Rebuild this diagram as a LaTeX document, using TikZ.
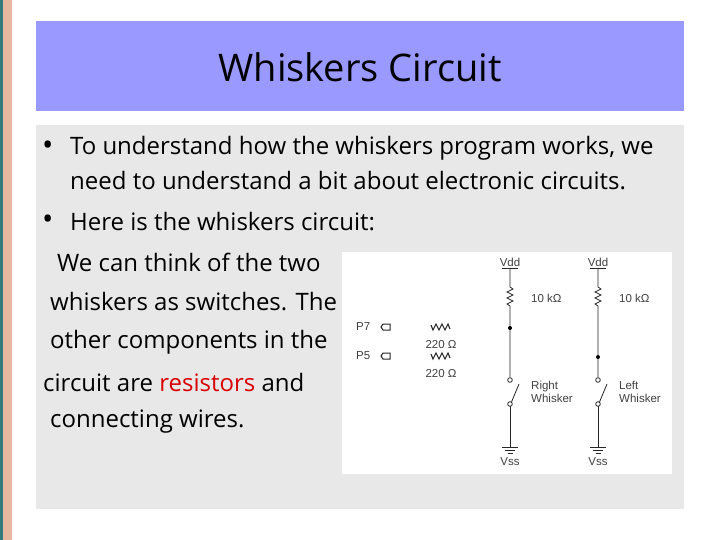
\documentclass[tikz,border=0pt]{standalone}
\usepackage{fontspec}
\setmainfont{Open Sans}
\newfontfamily\arialf{Liberation Sans}
\definecolor{peach}{RGB}{230,184,160}
\definecolor{titleblue}{RGB}{153,153,255}
\definecolor{bodygray}{RGB}{232,232,232}
\begin{document}
\begin{tikzpicture}[x=1pt,y=-1pt,
  wire/.style={line width=0.8pt,black!85},
  small/.style={font=\arialf\fontsize{11.5}{13}\selectfont,text=black!75,inner sep=0pt},
  body/.style={font=\fontsize{24}{26}\selectfont,anchor=west,inner sep=0pt}]
\useasboundingbox (0,0) rectangle (720,540);
\fill[white] (0,0) rectangle (720,540);
\fill[teal!70!black!80] (0,0) rectangle (3,540);
\fill[peach] (3,0) rectangle (12,540);
\node[fill=titleblue,minimum width=648,minimum height=90,inner sep=0pt,anchor=north west] (title) at (36,21) {};
\node[font=\fontsize{38}{42}\selectfont] (tt) at (360,67) {Whiskers Circuit};
\node[fill=bodygray,minimum width=648,minimum height=384,inner sep=0pt,anchor=north west] (bodybox) at (36,125) {};
\node[body,font=\fontsize{30}{30}\selectfont] (bu1) at (42,148) {•};
\node[body] (b1) at (70,148) {To understand how the whiskers program works, we};
\node[body] (b2) at (70,181) {need to understand a bit about electronic circuits.};
\node[body,font=\fontsize{30}{30}\selectfont] (bu2) at (42,222) {•};
\node[body] (b3) at (70,222) {Here is the whiskers circuit:};
\node[body] (l1) at (57,262) {We can think of the two};
\node[body] (l2) at (50,302) {whiskers as switches. The};
\node[body] (l3) at (50,342) {other components in the};
\node[body] (l4) at (43,382) {circuit are \textcolor{red!85!black}{resistors} and};
\node[body] (l5) at (50,422) {connecting wires.};
\fill[white] (342,252) rectangle (672,474);
\foreach \x/\n/\dy/\lab in {510/R/328/Right,598/L/357/Left}{
  \node[small] (vdd\n) at (\x,262) {Vdd};
  \draw[wire] (\x-8,268) -- (\x+8,268);
  \draw[wire] (\x,268) -- (\x,287) -- (\x+3,289) -- (\x-3,292) -- (\x+3,295) -- (\x-3,298) -- (\x+3,301) -- (\x-3,304) -- (\x,306) -- (\x,377);
  \node[small,anchor=west] (k\n) at (\x+21,298) {10 kΩ};
  \fill (\x,\dy) circle (2pt);
  \draw[wire,fill=white] (\x,380) circle (2.3pt);
  \draw[wire,fill=white] (\x,404) circle (2.3pt);
  \draw[wire] (\x+1.5,402) -- (\x+9,384);
  \draw[wire] (\x,406.3) -- (\x,447);
  \draw[wire] (\x-8,447) -- (\x+8,447);
  \draw[wire] (\x-5,450) -- (\x+5,450);
  \draw[wire] (\x-2.5,453) -- (\x+2.5,453);
  \node[small] (vss\n) at (\x,462) {Vss};
  \node[small,anchor=west,align=left] (sw\n) at (\x+21,392) {\lab\\Whisker};
}
\foreach \y/\p in {327/P7,356/P5}{
  \node[small,anchor=west] (p\p) at (356,\y) {\p};
  \draw[wire,line width=1pt] (390,\y-3) -- (383,\y-3) -- (381,\y) -- (383,\y+3) -- (390,\y+3) -- cycle;
  \draw[wire,line width=1.1pt] (431,\y-2) -- (433,\y+3) -- (436,\y-3) -- (439,\y+3) -- (442,\y-3) -- (445,\y+3) -- (448,\y-3) -- (450,\y+2);
  \node[small] (r\p) at (441,\y+18) {220 Ω};
}
\end{tikzpicture}
\end{document}
